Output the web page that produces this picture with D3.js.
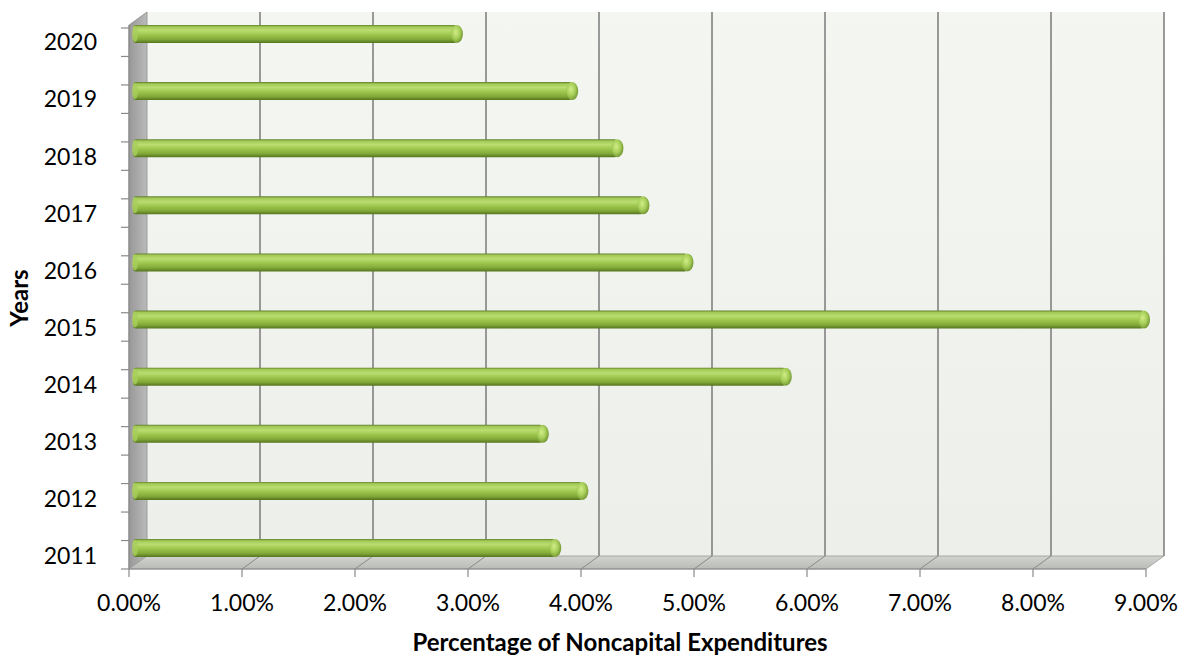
<!DOCTYPE html>
<html>
<head>
<meta charset="utf-8">
<script src="https://cdn.jsdelivr.net/npm/d3@7"></script>
<style>
  body { margin: 0; background: #fff; }
  svg { display: block; font-family: Lato, "Open Sans", sans-serif; }
  .tick-label { font-size: 23px; fill: #000; }
  .axis-label { font-size: 24px; font-weight: bold; fill: #000; }
</style>
</head>
<body>
<script>
// Chart data
const years = [2011, 2012, 2013, 2014, 2015, 2016, 2017, 2018, 2019, 2020];
const shares = [3.79, 4.03, 3.68, 5.83, 9.00, 4.96, 4.57, 4.34, 3.94, 2.92];
const xTicks = [0, 1, 2, 3, 4, 5, 6, 7, 8, 9];
const xTitle = "Percentage of Noncapital Expenditures";
const yTitle = "Years";

document.addEventListener('DOMContentLoaded', () => {
  const w = 1187, h = 660;
  // front edge of the plot and the 3D depth offset
  const left = 129, right = 1146, floorY = 569, topY = 25;
  const dx = 18, dy = -13;
  const barH = 18, barShift = 4;

  const dataset = years.map((y, i) => ({ year: y, value: shares[i] }));

  const xScale = d3.scaleLinear()
    .domain([0, d3.max(xTicks)])
    .range([left, right]);

  const yScale = d3.scalePoint()
    .domain(years)
    .range([548, 34]);

  const svg = d3.select("body")
    .append("svg")
    .attr("width", w)
    .attr("height", h);

  const defs = svg.append("defs");

  const barGrad = defs.append("linearGradient")
    .attr("id", "barGrad")
    .attr("x1", 0).attr("y1", 0).attr("x2", 0).attr("y2", 1);
  [[0, "#627f2a"], [0.1, "#a2c956"], [0.3, "#badd70"], [0.55, "#9cc54c"],
   [0.8, "#82a938"], [1, "#55741f"]].forEach(s =>
    barGrad.append("stop").attr("offset", s[0]).attr("stop-color", s[1]));

  const capGrad = defs.append("radialGradient")
    .attr("id", "capGrad")
    .attr("cx", 0.4).attr("cy", 0.4).attr("r", 0.7);
  [[0, "#d2ec88"], [0.5, "#a6ce58"], [1, "#66882a"]].forEach(s =>
    capGrad.append("stop").attr("offset", s[0]).attr("stop-color", s[1]));

  const sideGrad = defs.append("linearGradient")
    .attr("id", "sideGrad")
    .attr("x1", 0).attr("y1", 0).attr("x2", 1).attr("y2", 0);
  sideGrad.append("stop").attr("offset", 0).attr("stop-color", "#989898");
  sideGrad.append("stop").attr("offset", 1).attr("stop-color", "#bababa");

  const floorGrad = defs.append("linearGradient")
    .attr("id", "floorGrad")
    .attr("x1", 0).attr("y1", 0).attr("x2", 0).attr("y2", 1);
  floorGrad.append("stop").attr("offset", 0).attr("stop-color", "#d2d4cf");
  floorGrad.append("stop").attr("offset", 1).attr("stop-color", "#b9bbb6");

  const wallGrad = defs.append("linearGradient")
    .attr("id", "wallGrad")
    .attr("x1", 0).attr("y1", 0).attr("x2", 0).attr("y2", 1);
  wallGrad.append("stop").attr("offset", 0).attr("stop-color", "#f4f6f1");
  wallGrad.append("stop").attr("offset", 1).attr("stop-color", "#edf0ea");

  // Back wall
  svg.append("rect")
    .attr("x", left + dx)
    .attr("y", topY + dy)
    .attr("width", xScale(9) - left)
    .attr("height", floorY - topY)
    .attr("fill", "url(#wallGrad)");

  // Gridlines on back wall
  svg.selectAll(".grid")
    .data(xTicks.slice(1))
    .enter()
    .append("line")
    .attr("x1", d => xScale(d) + dx)
    .attr("x2", d => xScale(d) + dx)
    .attr("y1", topY + dy)
    .attr("y2", floorY + dy)
    .attr("stroke", "#7a7a7a")
    .attr("stroke-width", 1.5);

  // Side wall
  svg.append("polygon")
    .attr("points", [[left, topY], [left + dx, topY + dy], [left + dx, floorY + dy], [left, floorY]].join(" "))
    .attr("fill", "url(#sideGrad)")
    .attr("stroke", "#8e8e8e")
    .attr("stroke-width", 0.8);

  // Floor
  svg.append("polygon")
    .attr("points", [[left, floorY], [left + dx, floorY + dy], [xScale(9) + dx, floorY + dy], [xScale(9), floorY]].join(" "))
    .attr("fill", "url(#floorGrad)")
    .attr("stroke", "#9a9a9a")
    .attr("stroke-width", 0.8);

  // Floor gridlines
  svg.selectAll(".floorgrid")
    .data(xTicks.slice(1, -1))
    .enter()
    .append("line")
    .attr("x1", d => xScale(d))
    .attr("x2", d => xScale(d) + dx)
    .attr("y1", floorY)
    .attr("y2", floorY + dy)
    .attr("stroke", "#8a8a8a")
    .attr("stroke-width", 1);

  // Axes lines
  svg.append("line")
    .attr("x1", left).attr("x2", left)
    .attr("y1", topY).attr("y2", floorY)
    .attr("stroke", "#8a8a8a").attr("stroke-width", 1.2);
  svg.append("line")
    .attr("x1", left).attr("x2", right)
    .attr("y1", floorY).attr("y2", floorY)
    .attr("stroke", "#8a8a8a").attr("stroke-width", 1.2);

  // Left tick marks (half-band spacing)
  const yTickScale = d3.scaleLinear().domain([0, 19]).range([floorY, topY + 3]);
  svg.selectAll(".ytick")
    .data(d3.range(20))
    .enter()
    .append("line")
    .attr("x1", left - 8).attr("x2", left)
    .attr("y1", d => yTickScale(d))
    .attr("y2", d => yTickScale(d))
    .attr("stroke", "#8a8a8a").attr("stroke-width", 1.2);

  // Bottom tick marks
  svg.selectAll(".xtick")
    .data(xTicks)
    .enter()
    .append("line")
    .attr("x1", d => xScale(d)).attr("x2", d => xScale(d))
    .attr("y1", floorY).attr("y2", floorY + 8)
    .attr("stroke", "#8a8a8a").attr("stroke-width", 1.2);

  // Bars (cylinders)
  const bars = svg.selectAll(".bar")
    .data(dataset)
    .enter()
    .append("g")
    .attr("class", "bar");

  bars.append("rect")
    .attr("x", xScale(0) + barShift)
    .attr("y", d => yScale(d.year) - barH / 2)
    .attr("width", d => xScale(d.value) - xScale(0) - 6)
    .attr("height", barH)
    .attr("rx", 3)
    .attr("fill", "url(#barGrad)");

  bars.append("ellipse")
    .attr("cx", d => xScale(d.value) + barShift - 6)
    .attr("cy", d => yScale(d.year))
    .attr("rx", 6)
    .attr("ry", barH / 2)
    .attr("fill", "url(#capGrad)");

  bars.append("ellipse")
    .attr("cx", xScale(0) + barShift + 2)
    .attr("cy", d => yScale(d.year))
    .attr("rx", 3)
    .attr("ry", barH / 2 - 1)
    .attr("fill", "#a7cd5c")
    .attr("opacity", 0.8);

  // Tick labels
  svg.selectAll(".xlabel")
    .data(xTicks)
    .enter()
    .append("text")
    .attr("class", "tick-label")
    .attr("x", d => xScale(d))
    .attr("y", 611)
    .attr("text-anchor", "middle")
    .text(d => d.toFixed(2) + "%");

  svg.selectAll(".ylabel")
    .data(years)
    .enter()
    .append("text")
    .attr("class", "tick-label")
    .attr("x", 97)
    .attr("y", d => yScale(d) + 8)
    .attr("dy", "0.36em")
    .attr("text-anchor", "end")
    .text(d => d);

  // Axis titles
  svg.append("text")
    .attr("class", "axis-label")
    .attr("x", 620)
    .attr("y", 651)
    .attr("text-anchor", "middle")
    .text(xTitle);

  svg.append("text")
    .attr("class", "axis-label")
    .attr("transform", "translate(28, 298) rotate(-90)")
    .attr("text-anchor", "middle")
    .text(yTitle);
});
</script>
</body>
</html>
